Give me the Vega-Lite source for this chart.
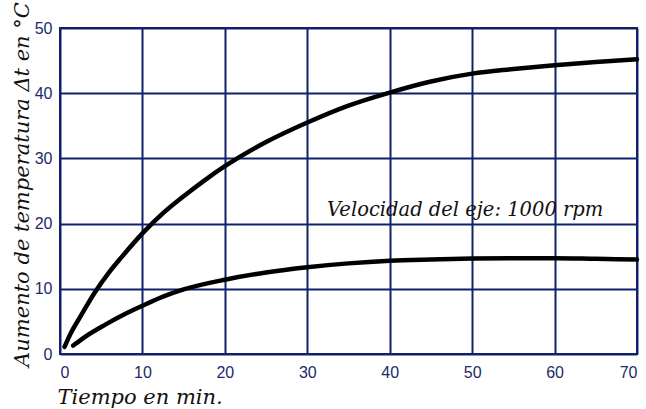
{
  "$schema": "https://vega.github.io/schema/vega-lite/v6.json",
  "width": 577,
  "height": 326,
  "autosize": {"type": "none"},
  "padding": {"left": 60, "top": 28, "right": 9, "bottom": 55},
  "background": "white",
  "config": {
    "view": {"stroke": "#10206a", "strokeWidth": 2},
    "axis": {
      "grid": true,
      "gridColor": "#10206a",
      "gridWidth": 2,
      "gridOpacity": 1,
      "domain": false,
      "ticks": false,
      "labelFont": "Liberation Sans",
      "labelFontSize": 16,
      "labelColor": "#1b2a6b",
      "titleFont": "DejaVu Serif",
      "titleFontStyle": "italic",
      "titleFontWeight": "normal",
      "titleColor": "#111111"
    }
  },
  "datasets": {
    "curves": [
      {"t": 0.55, "dt": 1.1, "s": "a"},
      {"t": 1.4, "dt": 3.4, "s": "a"},
      {"t": 2.5, "dt": 5.8, "s": "a"},
      {"t": 4.2, "dt": 9.4, "s": "a"},
      {"t": 6, "dt": 12.6, "s": "a"},
      {"t": 7.5, "dt": 14.9, "s": "a"},
      {"t": 10, "dt": 18.5, "s": "a"},
      {"t": 12.5, "dt": 21.6, "s": "a"},
      {"t": 15, "dt": 24.2, "s": "a"},
      {"t": 17.5, "dt": 26.6, "s": "a"},
      {"t": 20, "dt": 28.8, "s": "a"},
      {"t": 25, "dt": 32.5, "s": "a"},
      {"t": 30, "dt": 35.5, "s": "a"},
      {"t": 35, "dt": 38.1, "s": "a"},
      {"t": 40, "dt": 40.1, "s": "a"},
      {"t": 45, "dt": 41.8, "s": "a"},
      {"t": 50, "dt": 43.0, "s": "a"},
      {"t": 55, "dt": 43.7, "s": "a"},
      {"t": 60, "dt": 44.3, "s": "a"},
      {"t": 65, "dt": 44.8, "s": "a"},
      {"t": 70, "dt": 45.2, "s": "a"},
      {"t": 1.6, "dt": 1.3, "s": "b"},
      {"t": 3, "dt": 2.6, "s": "b"},
      {"t": 5.5, "dt": 4.5, "s": "b"},
      {"t": 8, "dt": 6.2, "s": "b"},
      {"t": 10, "dt": 7.4, "s": "b"},
      {"t": 12.5, "dt": 8.8, "s": "b"},
      {"t": 15, "dt": 9.9, "s": "b"},
      {"t": 20, "dt": 11.4, "s": "b"},
      {"t": 25, "dt": 12.5, "s": "b"},
      {"t": 30, "dt": 13.3, "s": "b"},
      {"t": 35, "dt": 13.9, "s": "b"},
      {"t": 40, "dt": 14.3, "s": "b"},
      {"t": 45, "dt": 14.5, "s": "b"},
      {"t": 50, "dt": 14.65, "s": "b"},
      {"t": 55, "dt": 14.7, "s": "b"},
      {"t": 60, "dt": 14.7, "s": "b"},
      {"t": 65, "dt": 14.6, "s": "b"},
      {"t": 70, "dt": 14.5, "s": "b"}
    ],
    "note": [
      {"t": 32.4, "dt": 21.1, "label": "Velocidad del eje: 1000 rpm"}
    ]
  },
  "layer": [
    {
      "data": {"name": "curves"},
      "mark": {"type": "line", "color": "#000000", "strokeWidth": 4.5, "strokeCap": "round", "interpolate": "monotone"},
      "encoding": {
        "x": {
          "field": "t", "type": "quantitative",
          "scale": {"domain": [0, 70], "nice": false},
          "axis": {
            "values": [0, 10, 20, 30, 40, 50, 60, 70],
            "labelPadding": 10,
            "title": "Tiempo en min.",
            "titleFontSize": 21,
            "titleAnchor": "start",
            "titleAlign": "left",
            "titleBaseline": "alphabetic",
            "titleX": -3,
            "titleY": 49
          }
        },
        "y": {
          "field": "dt", "type": "quantitative",
          "scale": {"domain": [0, 50], "nice": false},
          "axis": {
            "values": [0, 5, 10, 15, 20, 25, 30, 35, 40, 45, 50],
            "labelExpr": "datum.value % 10 === 0 ? datum.label : ''",
            "labelPadding": 8,
            "title": "Aumento de temperatura Δt en °C",
            "titleFontSize": 21,
            "titleAngle": -90,
            "titleAlign": "center",
            "titleBaseline": "alphabetic",
            "titleX": -32,
            "titleY": 156
          }
        },
        "detail": {"field": "s"}
      }
    },
    {
      "data": {"name": "note"},
      "mark": {"type": "text", "font": "DejaVu Serif", "fontStyle": "italic", "fontSize": 19.5, "align": "left", "baseline": "alphabetic", "color": "#111111"},
      "encoding": {
        "x": {"field": "t", "type": "quantitative"},
        "y": {"field": "dt", "type": "quantitative"},
        "text": {"field": "label"}
      }
    }
  ]
}
